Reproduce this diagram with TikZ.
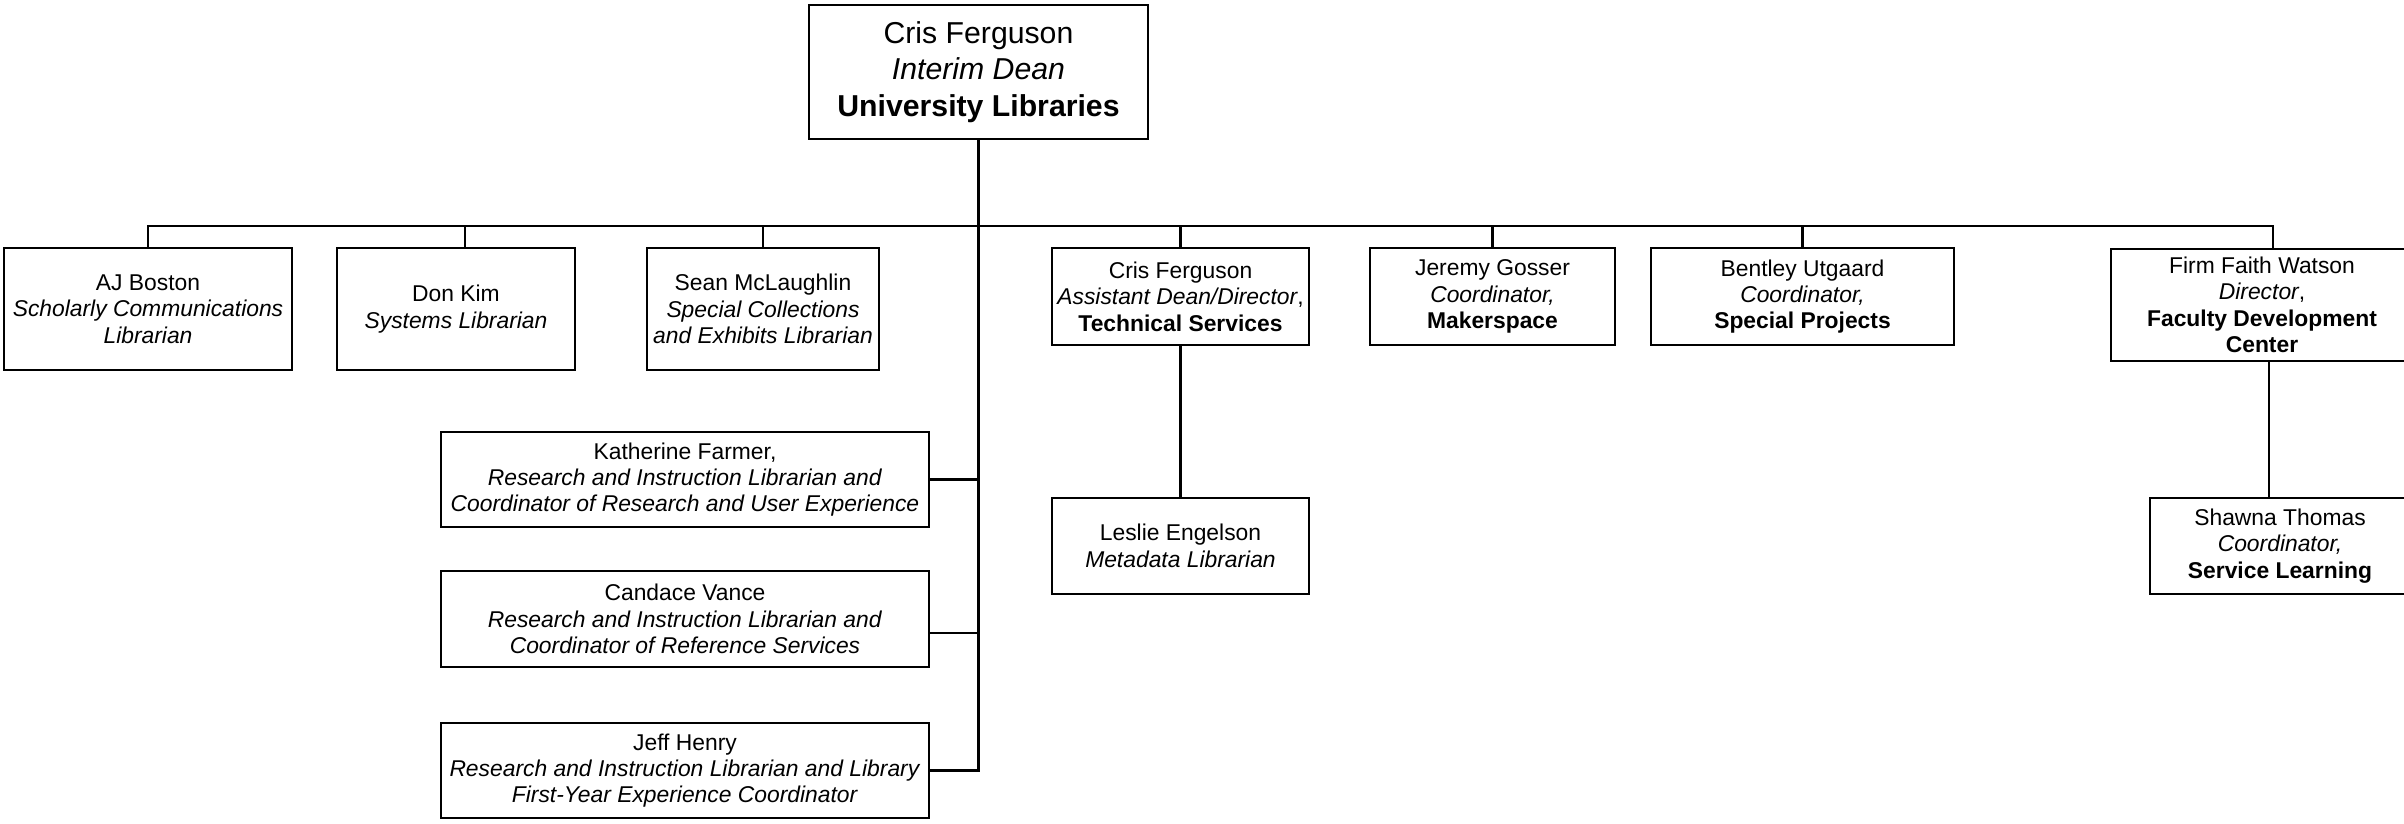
\documentclass[tikz,border=0pt]{standalone}
\usepackage{fontspec}
\setmainfont{Liberation Sans}
\usepackage{tikz}

\begin{document}
\begin{tikzpicture}[every node/.style={rectangle, draw, fill=white, align=center, inner sep=0pt, font=\fontsize{6.5}{7.5}\selectfont}, line width=0.6pt]
  \useasboundingbox (0,0) rectangle (24.04,-8.24);
  \node[minimum width=3.39cm, minimum height=1.34cm, font=\fontsize{8.6}{10.4}\selectfont] (dean) at (9.785,-0.72) {Cris Ferguson\\\textit{Interim Dean}\\\textbf{University Libraries}};
  \node[minimum width=2.88cm, minimum height=1.22cm] (boston) at (1.48,-3.09) {AJ Boston\\\textit{Scholarly Communications}\\\textit{Librarian}};
  \node[minimum width=2.38cm, minimum height=1.22cm] (kim) at (4.56,-3.09) {Don Kim\\\textit{Systems Librarian}};
  \node[minimum width=2.32cm, minimum height=1.22cm] (mclaughlin) at (7.63,-3.09) {Sean McLaughlin\\\textit{Special Collections}\\\textit{and Exhibits Librarian}};
  \node[minimum width=2.57cm, minimum height=0.97cm] (ferguson) at (11.805,-2.965) {Cris Ferguson\\\textit{Assistant Dean/Director},\\\textbf{Technical Services}};
  \node[minimum width=2.45cm, minimum height=0.97cm] (gosser) at (14.925,-2.965) {Jeremy Gosser\\\textit{Coordinator,}\\\textbf{Makerspace}};
  \node[minimum width=3.03cm, minimum height=0.97cm] (utgaard) at (18.025,-2.965) {Bentley Utgaard\\\textit{Coordinator,}\\\textbf{Special Projects}};
  \node[minimum width=3.02cm, minimum height=1.12cm] (watson) at (22.62,-3.05) {Firm Faith Watson\\\textit{Director},\\\textbf{Faculty Development}\\\textbf{Center}};
  \node[minimum width=2.57cm, minimum height=0.96cm] (engelson) at (11.805,-5.46) {Leslie Engelson\\\textit{Metadata Librarian}};
  \node[minimum width=2.60cm, minimum height=0.96cm] (thomas) at (22.80,-5.46) {Shawna Thomas\\\textit{Coordinator,}\\\textbf{Service Learning}};
  \node[minimum width=4.88cm, minimum height=0.95cm] (farmer) at (6.85,-4.795) {Katherine Farmer,\\\textit{Research and Instruction Librarian and}\\\textit{Coordinator of Research and User Experience}};
  \node[minimum width=4.88cm, minimum height=0.96cm] (vance) at (6.85,-6.19) {Candace Vance\\\textit{Research and Instruction Librarian and}\\\textit{Coordinator of Reference Services}};
  \node[minimum width=4.88cm, minimum height=0.95cm] (henry) at (6.85,-7.705) {Jeff Henry\\\textit{Research and Instruction Librarian and Library}\\\textit{First-Year Experience Coordinator}};
  \coordinate (bus) at (9.80,-2.26);
  \coordinate (ktap) at ([xshift=0.09cm]kim.north);
  \coordinate (wtap) at ([xshift=0.11cm]watson.north);
  \coordinate (wdown) at ([xshift=0.07cm]watson.south);
  \coordinate (vtap) at ([yshift=-0.14cm]vance.east);
  \draw (dean.south) -- (dean.south |- henry.east) -- (henry.east);
  \draw (boston.north) -- (boston.north |- bus) -- (wtap |- bus) -- (wtap);
  \foreach \n in {mclaughlin, ferguson, gosser, utgaard}
    \draw (\n.north) -- (\n.north |- bus);
  \draw (ktap) -- (ktap |- bus);
  \draw (farmer.east) -- (farmer.east -| dean.south);
  \draw (vtap) -- (vtap -| dean.south);
  \draw (ferguson.south) -- (engelson.north);
  \draw (wdown) -- (wdown |- thomas.north);
\end{tikzpicture}
\end{document}
